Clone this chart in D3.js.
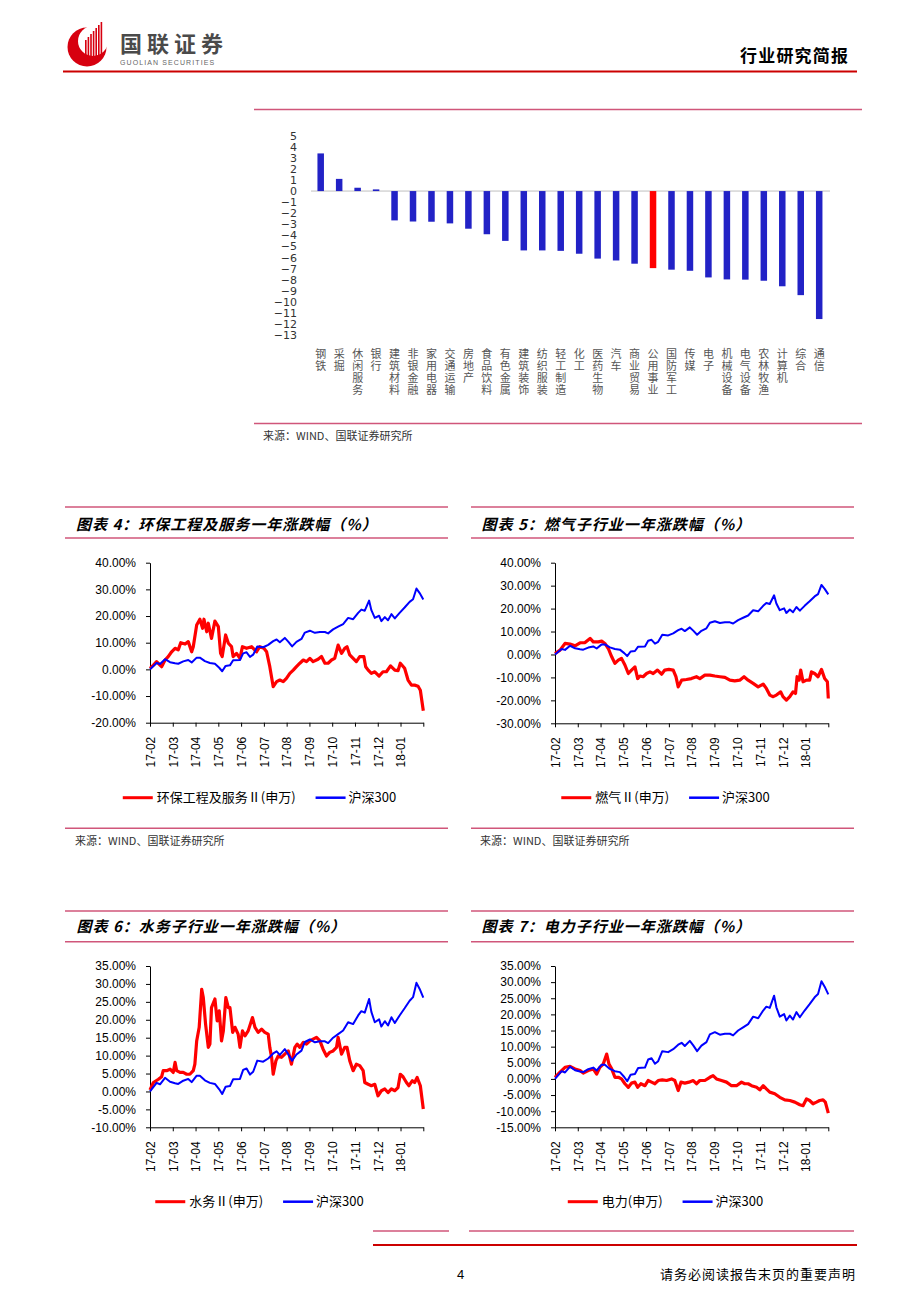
<!DOCTYPE html>
<html><head><meta charset="utf-8">
<script src="https://cdn.jsdelivr.net/npm/d3@7"></script>
<style>
body{margin:0;background:#fff}
svg{display:block}
</style></head>
<body>
<svg id="page" width="920" height="1302"></svg>
<script>
// ---------------- DATA ----------------
const barCategories = ["钢铁","采掘","休闲服务","银行","建筑材料","非银金融","家用电器","交通运输","房地产","食品饮料","有色金属","建筑装饰","纺织服装","轻工制造","化工","医药生物","汽车","商业贸易","公用事业","国防军工","传媒","电子","机械设备","电气设备","农林牧渔","计算机","综合","通信"];
const barValues = [3.4,1.1,0.3,0.15,-2.65,-2.75,-2.77,-2.92,-3.4,-3.9,-4.5,-5.36,-5.36,-5.4,-5.66,-6.1,-6.27,-6.56,-6.96,-7.1,-7.2,-7.8,-7.98,-8.0,-8.1,-8.6,-9.4,-11.56];
const highlightCategory = "公用事业";
const barTicks = [5,4,3,2,1,0,-1,-2,-3,-4,-5,-6,-7,-8,-9,-10,-11,-12,-13];

const monthLabels = ["17-02","17-03","17-04","17-05","17-06","17-07","17-08","17-09","17-10","17-11","17-12","18-01"];
const monthTicks = [0,1,2,3,4,5,6,7,8,9,10,11,12];

// [month offset from 17-02, % change]
const hs300 = [[0,0],[0.29,2.4],[0.44,2.0],[0.66,3.8],[0.88,2.7],[1.10,2.3],[1.24,2.1],[1.46,3.0],[1.68,3.5],[1.83,2.6],[2.05,4.4],[2.19,4.4],[2.41,3.1],[2.63,2.4],[2.85,2.1],[3.04,0.6],[3.17,-0.7],[3.32,1.3],[3.51,1.5],[3.65,3.4],[3.95,3.5],[4.09,6.0],[4.24,6.4],[4.39,4.7],[4.53,5.5],[4.71,8.6],[4.97,8.3],[5.19,9.2],[5.41,10.6],[5.56,11.2],[5.70,10.2],[5.92,11.8],[6.07,10.4],[6.24,8.6],[6.43,10.3],[6.65,11.4],[6.80,13.8],[7.02,14.5],[7.24,13.7],[7.46,14.0],[7.68,14.0],[7.82,13.5],[8.04,15.0],[8.26,16.0],[8.48,17.0],[8.70,19.3],[8.92,18.8],[9.14,21.2],[9.28,22.4],[9.43,22.0],[9.62,25.8],[9.72,22.2],[9.87,19.3],[10.06,20.1],[10.16,18.1],[10.31,19.6],[10.45,18.4],[10.60,20.7],[10.75,19.1],[10.96,21.2],[11.18,23.2],[11.40,25.3],[11.55,26.3],[11.70,30.3],[11.84,28.6],[12,26.2]];

const envSeries = [[0,0.4],[0.15,1.6],[0.29,2.9],[0.44,1.6],[0.51,1.0],[0.66,3.5],[0.80,4.8],[0.95,6.6],[1.10,7.9],[1.24,7.3],[1.35,10.0],[1.54,9.5],[1.68,10.4],[1.83,6.6],[1.90,8.5],[2.05,16.6],[2.19,18.8],[2.31,15.4],[2.37,18.8],[2.49,14.1],[2.56,17.3],[2.70,11.6],[2.85,18.1],[3.00,16.0],[3.10,6.0],[3.17,4.8],[3.32,12.9],[3.44,9.8],[3.58,8.5],[3.65,4.8],[3.80,6.0],[3.95,4.1],[4.06,8.5],[4.24,7.9],[4.46,8.5],[4.68,6.6],[4.82,8.5],[5.00,7.9],[5.12,6.6],[5.26,1.0],[5.41,-6.5],[5.56,-4.6],[5.70,-4.0],[5.85,-4.6],[5.99,-3.4],[6.14,-1.5],[6.29,-0.3],[6.43,1.0],[6.58,2.3],[6.73,3.5],[6.87,2.9],[7.02,4.1],[7.16,2.9],[7.38,3.8],[7.53,4.8],[7.68,2.3],[7.82,2.3],[7.97,3.5],[8.11,4.1],[8.26,9.1],[8.41,6.0],[8.55,7.9],[8.65,8.5],[8.77,5.4],[8.92,4.1],[9.06,2.9],[9.21,4.8],[9.39,4.8],[9.47,1.0],[9.58,-0.3],[9.72,-1.5],[9.87,-0.9],[10.06,-2.5],[10.23,-0.9],[10.38,-0.9],[10.56,1.3],[10.75,-0.3],[10.89,-0.5],[10.99,2.3],[11.18,0.4],[11.33,-4.0],[11.48,-5.9],[11.62,-5.9],[11.77,-6.3],[11.87,-7.8],[12,-15.5]];

const gasSeries = [[0,0.4],[0.22,1.9],[0.44,4.8],[0.66,4.5],[0.88,3.8],[1.10,5.1],[1.32,5.2],[1.54,7.0],[1.68,5.5],[1.90,5.5],[2.05,5.8],[2.19,4.8],[2.34,2.6],[2.49,-1.0],[2.63,-3.9],[2.78,-2.5],[2.92,-1.7],[3.07,-4.6],[3.22,-8.3],[3.36,-6.8],[3.51,-5.4],[3.63,-10.5],[3.73,-9.4],[3.87,-9.7],[4.02,-8.3],[4.17,-7.6],[4.31,-8.3],[4.50,-6.8],[4.68,-8.6],[4.82,-6.8],[5.00,-6.5],[5.19,-6.8],[5.31,-9.7],[5.41,-14.1],[5.56,-11.2],[5.77,-10.9],[5.99,-10.5],[6.21,-9.7],[6.36,-10.5],[6.58,-9.0],[6.80,-9.0],[7.02,-9.4],[7.24,-9.7],[7.46,-10.0],[7.68,-11.2],[7.89,-11.5],[8.11,-11.2],[8.30,-9.7],[8.48,-11.2],[8.70,-12.6],[8.92,-14.1],[9.14,-12.9],[9.28,-14.8],[9.43,-17.7],[9.58,-18.4],[9.72,-17.7],[9.91,-16.3],[10.01,-18.4],[10.16,-19.9],[10.31,-18.4],[10.45,-16.3],[10.56,-17.0],[10.63,-9.7],[10.72,-11.2],[10.79,-6.8],[10.89,-11.9],[11.04,-11.2],[11.18,-11.2],[11.26,-7.6],[11.40,-8.3],[11.55,-9.7],[11.70,-6.5],[11.84,-10.5],[11.96,-11.9],[12,-19.2]];

const waterSeries = [[0,0.4],[0.15,2.5],[0.37,3.4],[0.51,4.1],[0.58,5.8],[0.73,5.8],[0.88,6.2],[1.02,5.3],[1.10,8.1],[1.17,5.8],[1.32,5.3],[1.46,5.3],[1.61,4.8],[1.75,4.8],[1.90,5.8],[1.97,7.6],[2.05,14.1],[2.16,17.9],[2.27,28.5],[2.34,26.2],[2.44,18.8],[2.56,12.3],[2.63,13.2],[2.70,23.4],[2.85,25.8],[2.95,19.7],[3.04,22.5],[3.14,14.1],[3.22,16.9],[3.33,26.2],[3.44,23.4],[3.51,23.4],[3.63,16.5],[3.73,17.9],[3.87,16.0],[3.95,12.3],[4.06,16.9],[4.17,15.5],[4.31,16.9],[4.50,20.6],[4.61,17.9],[4.75,16.5],[4.90,17.4],[5.04,16.5],[5.19,16.0],[5.26,12.3],[5.34,9.5],[5.41,4.8],[5.53,8.6],[5.63,9.9],[5.77,9.5],[5.92,10.4],[6.07,11.3],[6.21,7.6],[6.36,12.3],[6.46,13.2],[6.58,12.3],[6.73,13.7],[6.87,13.2],[7.02,14.1],[7.16,14.6],[7.31,15.1],[7.46,14.1],[7.60,11.8],[7.75,9.9],[7.89,10.9],[8.04,11.3],[8.19,12.3],[8.26,15.1],[8.41,10.4],[8.55,12.3],[8.65,12.3],[8.77,8.6],[8.92,5.8],[9.06,7.6],[9.21,7.2],[9.36,5.8],[9.43,2.5],[9.58,2.0],[9.72,1.6],[9.87,2.0],[10.01,-1.2],[10.16,0.2],[10.31,0.7],[10.45,-0.3],[10.60,0.7],[10.75,0.2],[10.89,1.1],[10.99,4.8],[11.11,4.1],[11.26,2.5],[11.37,1.6],[11.52,3.0],[11.62,2.5],[11.73,3.9],[11.87,1.6],[12,-4.9]];

const powerSeries = [[0,0.5],[0.22,2.1],[0.44,3.6],[0.66,3.9],[0.88,3.1],[1.10,2.6],[1.24,1.8],[1.46,2.6],[1.68,3.1],[1.83,1.5],[1.97,3.6],[2.12,4.6],[2.27,7.7],[2.37,4.6],[2.49,3.1],[2.63,0.5],[2.78,0.5],[2.92,0],[3.07,-1.5],[3.22,-2.6],[3.36,-1.3],[3.51,-1.0],[3.63,-2.6],[3.77,-1.5],[3.95,-2.1],[4.09,-0.5],[4.24,-1.0],[4.39,-1.5],[4.53,-0.5],[4.71,-0.3],[4.90,-0.5],[5.12,0],[5.26,-0.5],[5.41,-3.6],[5.53,-1.0],[5.70,-1.3],[5.88,-1.0],[6.07,-0.5],[6.21,-1.5],[6.36,-0.5],[6.58,-0.5],[6.80,0.5],[6.94,1.0],[7.09,0],[7.31,-0.5],[7.53,-1.0],[7.75,-2.1],[7.97,-2.1],[8.19,-1.0],[8.33,-1.5],[8.48,-1.5],[8.63,-2.1],[8.85,-2.6],[8.99,-3.4],[9.14,-2.1],[9.28,-3.1],[9.43,-4.1],[9.65,-4.6],[9.87,-5.7],[10.09,-6.5],[10.31,-6.7],[10.53,-7.2],[10.75,-8.0],[10.89,-8.3],[11.04,-6.2],[11.18,-6.7],[11.33,-7.7],[11.48,-7.2],[11.62,-6.7],[11.77,-6.5],[11.87,-7.2],[12,-10.6]];

const yTicks4 = [40,30,20,10,0,-10,-20];
const yTicks5 = [40,30,20,10,0,-10,-20,-30];
const yTicks6 = [35,30,25,20,15,10,5,0,-5,-10];
const yTicks7 = [35,30,25,20,15,10,5,0,-5,-10,-15];

const chartTitles = ["图表 4：环保工程及服务一年涨跌幅（%）","图表 5：燃气子行业一年涨跌幅（%）","图表 6：水务子行业一年涨跌幅（%）","图表 7：电力子行业一年涨跌幅（%）"];
const seriesNames = ["环保工程及服务Ⅱ(申万)","燃气Ⅱ(申万)","水务Ⅱ(申万)","电力(申万)"];
const benchmarkName = "沪深300";
const sourceText = "来源：WIND、国联证券研究所";

// ---------------- DRAW ----------------
const svg = d3.select("#page");
const CJK = "'Noto Sans CJK SC','Noto Sans',sans-serif";
const ARIAL = "'Liberation Sans',Arial,sans-serif";
const PINK = "#D0567A";

function hline(x1, x2, y, color, w) {
  svg.append("line").attr("x1", x1).attr("x2", x2).attr("y1", y).attr("y2", y)
    .attr("stroke", color).attr("stroke-width", w);
}
function txt(x, y, s, size, opts = {}) {
  return svg.append("text").attr("x", x).attr("y", y).text(s)
    .style("font-family", opts.family || CJK).style("font-size", size + "px")
    .style("font-weight", opts.weight || "normal").style("font-style", opts.style || "normal")
    .style("letter-spacing", (opts.ls || 0) + "px")
    .attr("fill", opts.fill || "#000").attr("text-anchor", opts.anchor || "start");
}

// Header logo
const logo = svg.append("g");
logo.append("circle").attr("cx", 87).attr("cy", 47).attr("r", 19.5).attr("fill", "#D7000F");
logo.append("circle").attr("cx", 93).attr("cy", 41).attr("r", 15).attr("fill", "#fff");
const stripeTops = [40, 37, 34, 31, 28, 25, 22];
stripeTops.forEach((t, i) => {
  logo.append("rect").attr("x", 85 + i * 2.6).attr("y", t).attr("width", 1.6)
    .attr("height", 61 - t - i * 0.6).attr("fill", "#D7000F");
});
txt(120, 52, "国联证券", 22, {weight: "bold", fill: "#4a4a4a", ls: 5});
txt(120, 65, "GUOLIAN SECURITIES", 7, {family: ARIAL, fill: "#666", ls: 1.1});
txt(740, 62, "行业研究简报", 17, {weight: "bold", ls: 1.2});
hline(63, 857, 71.5, "#CC0000", 2);

// ---------- Bar chart ----------
hline(254, 862, 109.5, PINK, 1.4);
hline(254, 862, 423.5, PINK, 1.4);
txt(263, 440, sourceText, 11, {fill: "#333"});

const barX = d3.scalePoint().domain(barCategories).range([320.7, 819.2]);
const barY = d3.scaleLinear().domain([-13, 5]).range([335, 135.7]);
svg.append("line").attr("x1", 311).attr("x2", 830).attr("y1", barY(0)).attr("y2", barY(0))
  .attr("stroke", "#BFBFBF").attr("stroke-width", 1);
svg.append("g").selectAll("rect").data(barCategories).join("rect")
  .attr("x", d => barX(d) - 3.25)
  .attr("width", 6.5)
  .attr("y", (d, i) => Math.min(barY(barValues[i]), barY(0)))
  .attr("height", (d, i) => Math.abs(barY(barValues[i]) - barY(0)))
  .attr("fill", d => d === highlightCategory ? "#FF0000" : "#2222C6");
const barAxis = svg.append("g").attr("transform", "translate(311,0)")
  .call(d3.axisLeft(barY).tickValues(barTicks).tickSize(0).tickPadding(14).tickFormat(d3.format("d")));
barAxis.select(".domain").remove();
barAxis.selectAll("text").style("font-family", "'DejaVu Sans',Verdana,sans-serif")
  .style("font-size", "11px").attr("fill", "#333");
// vertical category labels (one text per category, vertical writing)
svg.append("g").selectAll("text").data(barCategories).join("text")
  .attr("x", d => barX(d)).attr("y", 348)
  .text(d => d)
  .style("writing-mode", "vertical-rl")
  .style("text-orientation", "upright")
  .style("font-family", CJK).style("font-size", "11px")
  .style("letter-spacing", "1px")
  .attr("fill", "#555");

// ---------- Line charts ----------
const panels = [
  {title: chartTitles[0], name: seriesNames[0], data: envSeries, ticks: yTicks4,
   bx: [65, 448], tx: 76, lines: [507, 538], titleY: 530, plot: [150, 423.3, 562.7, 722.7], legY: 797.7,
   source: {line: 828.3, y: 845, x: 75}},
  {title: chartTitles[1], name: seriesNames[1], data: gasSeries, ticks: yTicks5,
   bx: [471, 854], tx: 481.5, lines: [507, 538], titleY: 530, plot: [555, 828.3, 562.7, 723.3], legY: 797.7,
   source: {line: 828.3, y: 845, x: 480}},
  {title: chartTitles[2], name: seriesNames[2], data: waterSeries, ticks: yTicks6,
   bx: [65, 448], tx: 76.5, lines: [911, 941.7], titleY: 932, plot: [150, 423.3, 966, 1127.3], legY: 1201.7,
   bottom: [373, 449, 1231]},
  {title: chartTitles[3], name: seriesNames[3], data: powerSeries, ticks: yTicks7,
   bx: [471, 854], tx: 481.5, lines: [911, 941.7], titleY: 932, plot: [555, 828.3, 966, 1127.3], legY: 1201.7,
   bottom: [469, 854, 1231]}
];

panels.forEach(p => {
  hline(p.bx[0], p.bx[1], p.lines[0], PINK, 1.4);
  hline(p.bx[0], p.bx[1], p.lines[1], PINK, 1.4);
  txt(p.tx, p.titleY, p.title, 15, {weight: "bold", style: "italic", ls: 1});
  if (p.source) {
    hline(p.bx[0], p.bx[1], p.source.line, PINK, 1.4);
    txt(p.source.x, p.source.y, sourceText, 11, {fill: "#333"});
  }
  if (p.bottom) hline(p.bottom[0], p.bottom[1], p.bottom[2], PINK, 1.4);

  const [x0, x1, yT, yB] = p.plot;
  const x = d3.scaleLinear().domain([0, 12]).range([x0, x1]);
  const y = d3.scaleLinear().domain([d3.min(p.ticks), d3.max(p.ticks)]).range([yB, yT]);
  const g = svg.append("g");

  const ya = g.append("g").attr("transform", `translate(${x0},0)`)
    .call(d3.axisLeft(y).tickValues(p.ticks).tickSize(4).tickSizeOuter(0).tickPadding(10)
      .tickFormat(d => d.toFixed(2) + "%"));
  const xa = g.append("g").attr("transform", `translate(0,${yB})`)
    .call(d3.axisBottom(x).tickValues(monthTicks).tickSize(4).tickSizeOuter(0)
      .tickFormat(i => monthLabels[i] || ""));
  xa.selectAll("text").attr("transform", "rotate(-90)").attr("x", -14).attr("y", 0)
    .attr("dy", "0.36em").style("text-anchor", "end");
  [ya, xa].forEach(a => {
    a.selectAll("text").style("font-family", ARIAL).style("font-size", "12px").attr("fill", "#000");
    a.selectAll("line").attr("stroke", "#000");
    a.select(".domain").attr("stroke", "#000");
  });

  const line = d3.line().x(d => x(d[0])).y(d => y(d[1]));
  g.append("path").datum(p.data).attr("d", line).attr("fill", "none")
    .attr("stroke", "#FF0000").attr("stroke-width", 3.2).attr("stroke-linejoin", "round");
  g.append("path").datum(hs300).attr("d", line).attr("fill", "none")
    .attr("stroke", "#0000FF").attr("stroke-width", 2).attr("stroke-linejoin", "round");

  // legend
  const leg = svg.append("g");
  const t1 = leg.append("text").text(p.name).style("font-family", CJK).style("font-size", "13px").attr("fill", "#000");
  const t2 = leg.append("text").text(benchmarkName).style("font-family", CJK).style("font-size", "13px").attr("fill", "#000");
  const w1 = t1.node().getComputedTextLength(), w2 = t2.node().getComputedTextLength();
  const total = 30 + 4 + w1 + 20 + 30 + 3 + w2;
  let lx = (p.bx[0] + p.bx[1]) / 2 + 3 - total / 2;
  leg.append("line").attr("x1", lx).attr("x2", lx + 30).attr("y1", p.legY).attr("y2", p.legY)
    .attr("stroke", "#FF0000").attr("stroke-width", 3);
  t1.attr("x", lx + 34).attr("y", p.legY).attr("dy", "0.36em");
  lx += 34 + w1 + 20;
  leg.append("line").attr("x1", lx).attr("x2", lx + 30).attr("y1", p.legY).attr("y2", p.legY)
    .attr("stroke", "#0000FF").attr("stroke-width", 2.5);
  t2.attr("x", lx + 33).attr("y", p.legY).attr("dy", "0.36em");
});

// Footer
hline(373, 857, 1245, "#CC0000", 2);
txt(457, 1279, "4", 13, {family: ARIAL});
txt(660, 1279, "请务必阅读报告末页的重要声明", 13, {ls: 1});
</script>
</body></html>
